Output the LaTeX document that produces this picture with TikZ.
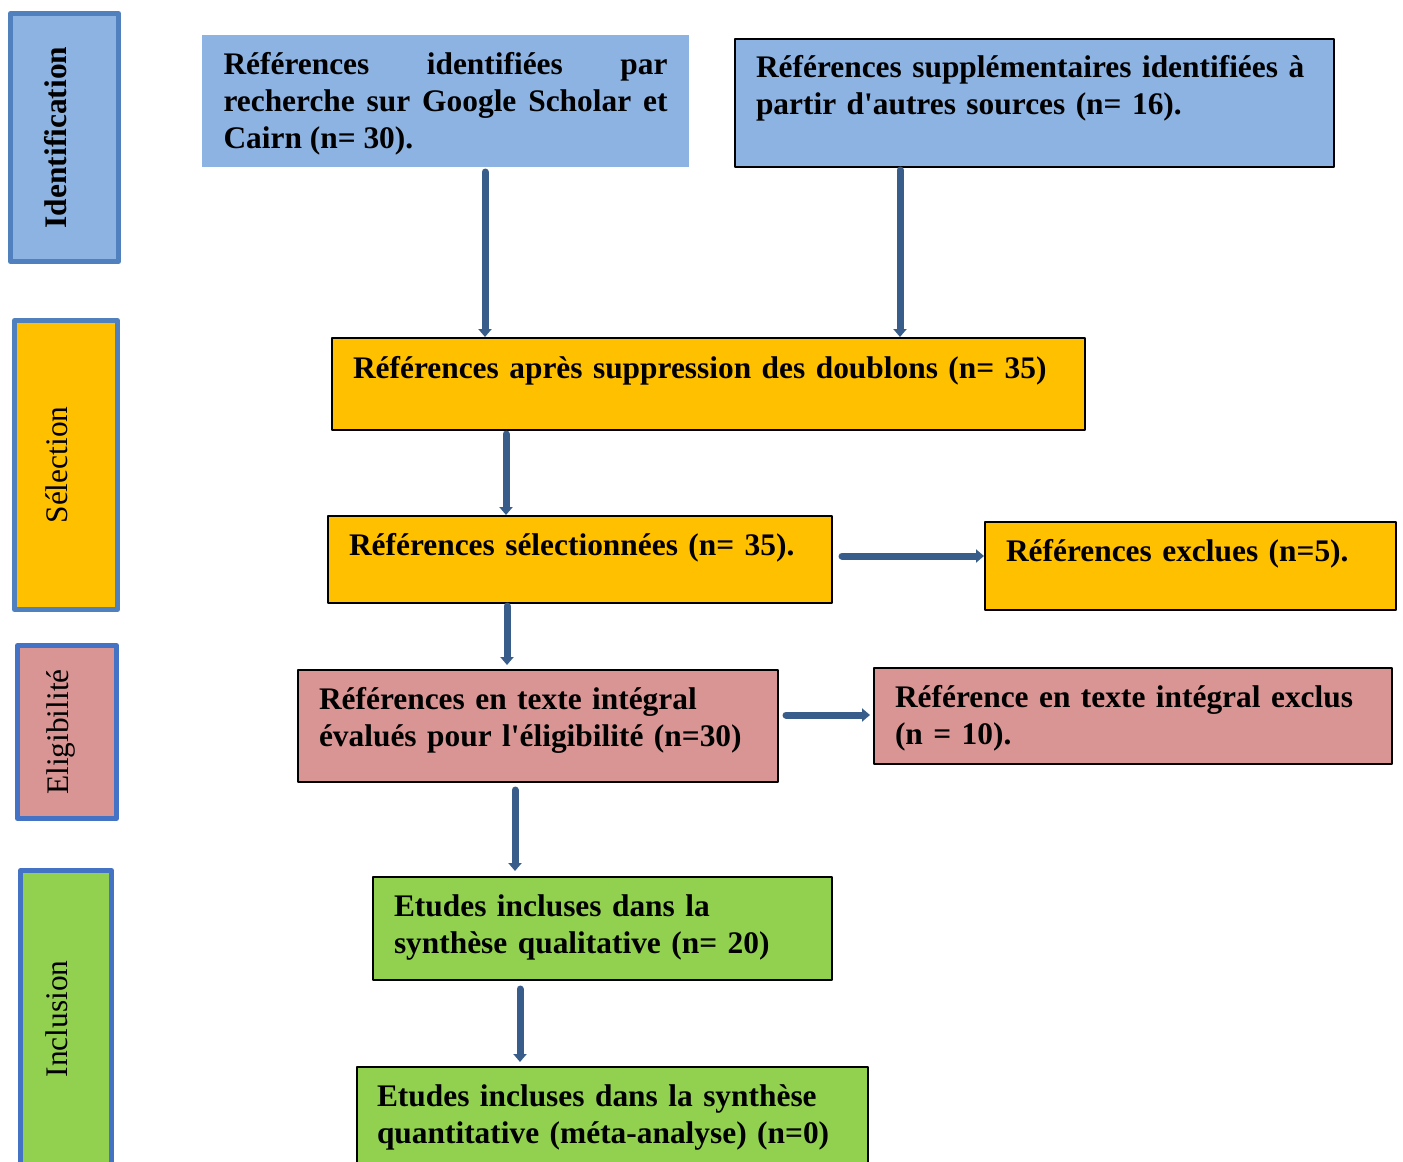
\documentclass[tikz,border=0pt]{standalone}
\usepackage{fontspec}
\setmainfont{Liberation Serif}
\usetikzlibrary{arrows.meta}
\definecolor{idblue}{HTML}{8DB3E2}
\definecolor{selorange}{HTML}{FFC000}
\definecolor{elpink}{HTML}{D99594}
\definecolor{ingreen}{HTML}{92D050}
\definecolor{edgeblue}{HTML}{5080BD}
\definecolor{edgeblueb}{HTML}{4472C4}
\definecolor{arrowblue}{HTML}{385D8A}

\begin{document}
\begin{tikzpicture}[line cap=round,line join=round,x=0.5pt,y=-0.5pt,
  >={Triangle[width=6.5pt,length=4pt]},
  box/.style={draw=black,line width=1pt,anchor=north west,align=left,inner xsep=10.5pt,inner ysep=0pt,
    text height=19.5pt,font=\fontsize{15.7pt}{18.5pt}\bfseries},
  phase/.style={rotate=90,line width=2.5pt,inner sep=0pt,text depth=9pt,font=\fontsize{15.7pt}{18.5pt}\selectfont},
  flow/.style={->,draw=arrowblue,line width=3.5pt}]
\useasboundingbox (0,0) rectangle (1403,1162);

% phases
\node[phase,draw=edgeblue,fill=idblue,minimum width=124pt,minimum height=54pt] (ident) at (64.5,137.5) {\bfseries Identification};
\node[phase,draw=edgeblue,fill=selorange,minimum width=144.5pt,minimum height=51.5pt] (select) at (66,465) {Sélection};
\node[phase,draw=edgeblueb,fill=elpink,minimum width=86.5pt,minimum height=49.5pt] (elig) at (67,732) {Eligibilité};
\node[phase,draw=edgeblueb,fill=ingreen,minimum width=148.5pt,minimum height=45.5pt] (incl) at (66,1019) {Inclusion};

% boxes
\node[box,draw=none,fill=idblue,align=justify,inner xsep=10.75pt,text width=222pt,text depth=46.5pt] (google) at (201,34)
  {Références identifiées par\linebreak recherche sur Google Scholar et\linebreak Cairn (n= 30).};
\node[box,fill=idblue,text width=278.5pt,text height=19pt,text depth=45pt] (other) at (734,38)
  {Références supplémentaires identifiées à\\partir d\textquotesingle autres sources (n= 16).};
\node[box,fill=selorange,text width=355.5pt,text height=20pt,text depth=26pt] (dedup) at (331,337)
  {Références après suppression des doublons (n= 35)};
\node[box,fill=selorange,text width=231pt,text depth=24pt] (screened) at (327,515)
  {Références sélectionnées (n= 35).};
\node[box,fill=selorange,text width=184.5pt,text depth=24.5pt] (excl1) at (984,521)
  {Références exclues (n=5).};
\node[box,fill=elpink,text width=219pt,text depth=36.5pt] (fulltext) at (297,669)
  {Références en texte intégral\\évalués pour l\textquotesingle éligibilité (n=30)};
\node[box,fill=elpink,text width=238pt,text depth=28.5pt] (excl2) at (873,667)
  {Référence en texte intégral exclus\\(n = 10).};
\node[box,fill=ingreen,text width=208.5pt,text depth=32pt] (quali) at (372,876)
  {Etudes incluses dans la\\synthèse qualitative (n= 20)};
\node[box,fill=ingreen,inner xsep=10pt,text width=235.5pt,text depth=35pt] (quanti) at (356,1066)
  {Etudes incluses dans la synthèse\\quantitative (méta-analyse) (n=0)};

% arrows
\draw[flow,shorten <=2pt] (485,0 |- google.south) -- (485,0 |- dedup.north);
\draw[flow,shorten <=1pt] (900,0 |- other.south) -- (900,0 |- dedup.north);
\draw[flow,shorten <=1.5pt] (506,0 |- dedup.south) -- (506,0 |- screened.north);
\draw[flow,shorten <=1pt,shorten >=2pt] (507,0 |- screened.south) -- (507,0 |- fulltext.north);
\draw[flow,shorten <=4.5pt] (screened.east |- 0,556) -- (excl1.west |- 0,556);
\draw[flow,shorten <=3.5pt,shorten >=1.5pt] (fulltext.east |- 0,715) -- (excl2.west |- 0,715);
\draw[flow,shorten <=3.5pt,shorten >=2.5pt] (515,0 |- fulltext.south) -- (515,0 |- quali.north);
\draw[flow,shorten <=4pt,shorten >=2pt] (520,0 |- quali.south) -- (520,0 |- quanti.north);
\end{tikzpicture}
\end{document}
